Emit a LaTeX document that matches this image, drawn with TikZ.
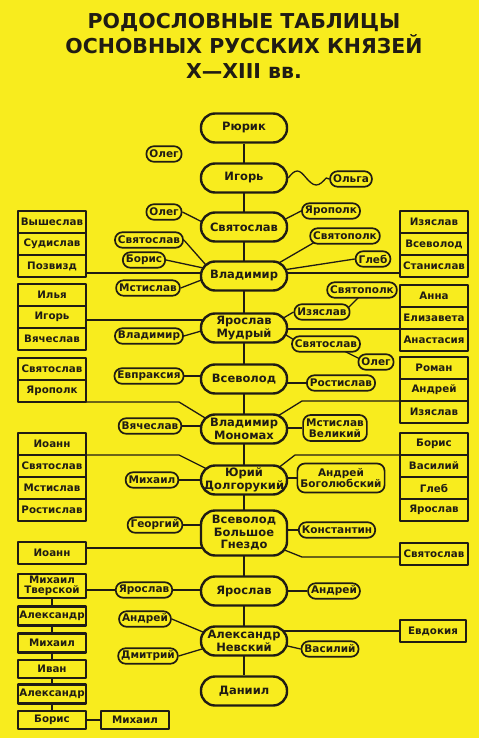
\documentclass[tikz,border=0pt]{standalone}
\usepackage{fontspec}
\setmainfont{DejaVu Sans}
\usetikzlibrary{positioning, calc, backgrounds}
\definecolor{paper}{RGB}{248,236,30}
\definecolor{ink}{RGB}{32,28,20}

\begin{document}
\begin{tikzpicture}[
    x=1pt, y=-1pt, line join=round,
    prince/.style={draw=ink, fill=paper, line width=2.4pt, rounded corners=14pt,
        minimum width=86pt, minimum height=29pt, inner sep=1pt, align=center,
        text=ink, font=\fontsize{11.5}{12.5}\selectfont\bfseries},
    kin/.style={draw=ink, fill=paper, line width=1.7pt, rounded corners=7.5pt,
        minimum height=15.5pt, inner xsep=3pt, inner ysep=1pt, align=center,
        text=ink, font=\fontsize{10.5}{11.5}\selectfont\bfseries},
    cell/.style={draw=ink, fill=paper, line width=2.2pt, minimum width=68pt,
        minimum height=22pt, inner sep=1pt, outer sep=0pt, align=center,
        text=ink, font=\fontsize{10.3}{10.5}\selectfont\bfseries},
    link/.style={draw=ink, line width=1.3pt},
    trunk/.style={draw=ink, line width=2.5pt}
]
    \useasboundingbox (0,0) rectangle (479,738);

    \node[align=center, text=ink, font=\fontsize{20.5}{25}\selectfont\bfseries] (title) at (244,46)
        {РОДОСЛОВНЫЕ ТАБЛИЦЫ\\ОСНОВНЫХ РУССКИХ КНЯЗЕЙ\\X—XIII вв.};

    % main line
    \node[prince] (ryurik) at (244,128) {Рюрик};
    \node[prince] (igor) at (244,178) {Игорь};
    \node[prince] (svyat) at (244,227) {Святослав};
    \node[prince] (vlad) at (244,276) {Владимир};
    \node[prince] (yarmud) at (244,328) {Ярослав\\Мудрый};
    \node[prince] (vsev) at (244,379) {Всеволод};
    \node[prince] (mono) at (244,429) {Владимир\\Мономах};
    \node[prince] (yuri) at (244,480) {Юрий\\Долгорукий};
    \node[prince, minimum height=45pt] (vbg) at (244,533) {Всеволод\\Большое\\Гнездо};
    \node[prince] (yar) at (244,591) {Ярослав};
    \node[prince] (nevsky) at (244,641) {Александр\\Невский};
    \node[prince] (daniil) at (244,691) {Даниил};

    % sons and wives
    \node[kin] (oleg1) at (164,154) {Олег};
    \node[kin] (olga) at (351,179) {Ольга};
    \node[kin] (oleg2) at (164,212) {Олег};
    \node[kin] (yaropolk1) at (331,211) {Ярополк};
    \node[kin] (svyat2) at (149,240) {Святослав};
    \node[kin] (svyatopolk1) at (345,236) {Святополк};
    \node[kin] (boris1) at (144,260) {Борис};
    \node[kin] (gleb) at (373,259) {Глеб};
    \node[kin] (mstislav1) at (148,288) {Мстислав};
    \node[kin] (svyatopolk2) at (362,290) {Святополк};
    \node[kin] (izyaslav1) at (322,312) {Изяслав};
    \node[kin] (vladimir2) at (149,336) {Владимир};
    \node[kin] (svyat3) at (326,344) {Святослав};
    \node[kin] (oleg3) at (376,362) {Олег};
    \node[kin] (evpraksia) at (149,376) {Евпраксия};
    \node[kin] (rostislav1) at (341,383) {Ростислав};
    \node[kin] (vyacheslav1) at (150,426) {Вячеслав};
    \node[kin, minimum height=26pt] (mstvel) at (335,428) {Мстислав\\Великий};
    \node[kin] (mikhail1) at (152,480) {Михаил};
    \node[kin, minimum height=29pt] (andbog) at (341,478) {Андрей\\Боголюбский};
    \node[kin] (georgy) at (155,525) {Георгий};
    \node[kin] (konst) at (337,530) {Константин};
    \node[kin] (yaroslav2) at (144,590) {Ярослав};
    \node[kin] (andrey2) at (334,591) {Андрей};
    \node[kin] (andrey3) at (145,619) {Андрей};
    \node[kin] (dmitry) at (148,656) {Дмитрий};
    \node[kin] (vasily) at (330,649) {Василий};

    % left tables
    \node[cell] (vysheslav) at (52,222) {Вышеслав};
    \node[cell, below=0pt of vysheslav] (sudislav) {Судислав};
    \node[cell, below=0pt of sudislav] (pozvizd) {Позвизд};
    \node[cell] (ilya) at (52,295) {Илья};
    \node[cell, below=0pt of ilya] (igor2) {Игорь};
    \node[cell, below=0pt of igor2] (vyacheslav2) {Вячеслав};
    \node[cell] (svyat5) at (52,369) {Святослав};
    \node[cell, below=0pt of svyat5] (yaropolk2) {Ярополк};
    \node[cell] (ioann1) at (52,444) {Иоанн};
    \node[cell, below=0pt of ioann1] (svyat6) {Святослав};
    \node[cell, below=0pt of svyat6] (mstislav2) {Мстислав};
    \node[cell, below=0pt of mstislav2] (rostislav2) {Ростислав};
    \node[cell] (ioann2) at (52,553) {Иоанн};
    \node[cell, minimum height=24pt] (mtver) at (52,586) {Михаил\\Тверской};
    \node[cell, minimum height=19pt] (alex1) at (52,616) {Александр};
    \node[cell, minimum height=19pt] (mikhail2) at (52,643) {Михаил};
    \node[cell, minimum height=18pt] (ivan) at (52,669) {Иван};
    \node[cell, minimum height=19pt] (alex2) at (52,694) {Александр};
    \node[cell, minimum height=18pt] (boris3) at (52,720) {Борис};
    \node[cell, minimum height=18pt] (mikhail3) at (135,720) {Михаил};

    % right tables
    \node[cell] (izyaslav2) at (434,222) {Изяслав};
    \node[cell, below=0pt of izyaslav2] (vsevolod2) {Всеволод};
    \node[cell, below=0pt of vsevolod2] (stanislav) {Станислав};
    \node[cell] (anna) at (434,296) {Анна};
    \node[cell, below=0pt of anna] (elizaveta) {Елизавета};
    \node[cell, below=0pt of elizaveta] (anastasia) {Анастасия};
    \node[cell] (roman) at (434,368) {Роман};
    \node[cell, below=0pt of roman] (andrey4) {Андрей};
    \node[cell, below=0pt of andrey4] (izyaslav3) {Изяслав};
    \node[cell] (boris2) at (434,444) {Борис};
    \node[cell, below=0pt of boris2] (vasily2) {Василий};
    \node[cell, below=0pt of vasily2] (gleb2) {Глеб};
    \node[cell, below=0pt of gleb2] (yaroslav3) {Ярослав};
    \node[cell] (svyat4) at (434,554) {Святослав};
    \node[cell, minimum width=66pt] (evdokia) at (433,631) {Евдокия};

    \begin{scope}[on background layer]
        \fill[paper] (0,0) rectangle (479,738);
        \draw[trunk] (ryurik) -- (daniil);
        \draw[link] (igor.east) sin ++(9,-7) cos ++(9,7) sin ++(10,7) cos ++(10,-7) -- (olga.west);

        \draw[link] (oleg2.east) -- ($(svyat)+(-22,5)$);
        \draw[link] (yaropolk1.west) -- ($(svyat)+(22,2)$);
        \draw[link] (svyat2.east) -- ($(vlad)+(-31,-3)$);
        \draw[link] (boris1.east) -- ($(vlad)+(-22,-4)$);
        \draw[link] (mstislav1.east) -- ($(vlad)+(-22,-4)$);
        \draw[link] ($(svyatopolk1)+(-30,6)$) -- ($(vlad)+(21,-5)$);
        \draw[link] (gleb.west) -- ($(vlad)+(26,-4)$);
        \draw[link] (vladimir2.east) -- ($(yarmud)+(-22,-3)$);
        \draw[link] (izyaslav1.west) -- ($(yarmud)+(21,1)$);
        \draw[link] ($(svyatopolk2)+(4,0)$) -- ($(izyaslav1)+(18,4)$);
        \draw[link] ($(svyat3)+(-30,-3)$) -- ($(yarmud)+(22,-5)$);
        \draw[link] ($(svyat3)+(12,4)$) -- ($(oleg3)+(-6,2)$);
        \draw[link] (evpraksia) -- (evpraksia -| vsev);
        \draw[link] (rostislav1) -- (rostislav1 -| vsev);
        \draw[link] (vyacheslav1) -- (vyacheslav1 -| mono);
        \draw[link] (mstvel) -- (mstvel -| mono);
        \draw[link] (mikhail1) -- (mikhail1 -| yuri);
        \draw[link] (andbog) -- (andbog -| yuri);
        \draw[link] (georgy) -- (georgy -| vbg);
        \draw[link] (konst) -- (konst -| vbg);
        \draw[link] (yaroslav2 -| mtver) -- (yaroslav2 -| yar);
        \draw[link] (andrey2) -- (andrey2 -| yar);
        \draw[link] (andrey3.east) -- ($(nevsky)+(-22,-1)$);
        \draw[link] (dmitry.east) -- ($(nevsky)+(-22,2)$);
        \draw[link] (vasily.west) -- ($(nevsky)+(22,0)$);

        % tables to fathers
        \draw[link] ([yshift=3pt]pozvizd.east |- vlad) -- ([yshift=3pt]vlad.center);
        \draw[link] ([yshift=3pt]stanislav.west |- vlad) -- ([yshift=3pt]vlad.center);
        \draw[link] ([yshift=-3pt]igor2.east) -- ([yshift=-3pt]igor2.east -| yarmud);
        \draw[link] (elizaveta.south west) -- (elizaveta.south west -| yarmud);
        \draw[link] (yaropolk2.south east) -- ++(93,0) -- ($(mono)+(-29,-5)$);
        \draw[link] (andrey4.south west) -- ++(-98,0) -- ($(mono)+(29,-10)$);
        \draw[link] (ioann1.south east) -- ++(93,0) -- ($(yuri)+(-29,-7)$);
        \draw[link] (boris2.south west) -- ++(-105,0) -- ($(yuri)+(29,-8)$);
        \draw[link] ([yshift=5pt]ioann2.east) -- ([yshift=5pt]ioann2.east -| vbg);
        \draw[link] ([yshift=-3pt]svyat4.west) -- ++(-98,0) -- ($(vbg)+(28,12)$);
        \draw[link] (evdokia) -- (evdokia -| nevsky);
        \draw[link] (mtver) -- (boris3);
        \draw[link] (boris3) -- (mikhail3);
    \end{scope}
\end{tikzpicture}
\end{document}
